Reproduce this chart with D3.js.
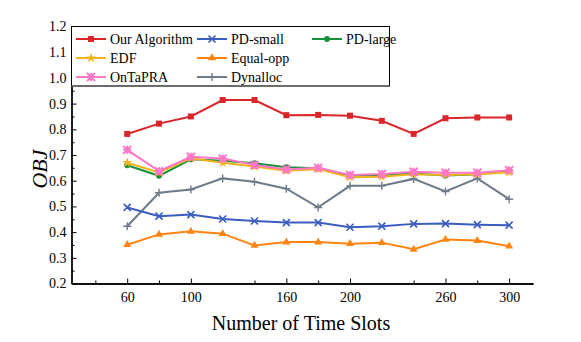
<!DOCTYPE html>
<html>
<head>
<meta charset="utf-8">
<script src="https://cdn.jsdelivr.net/npm/d3@7"></script>
<style>
body { margin: 0; background: #fff; }
text { font-family: "Liberation Serif", "Times New Roman", serif; }
</style>
</head>
<body>
<svg width="581" height="342"></svg>
<script>
// time slots on x
var slots = [60, 80, 100, 120, 140, 160, 180, 200, 220, 240, 260, 280, 300];

var ourAlgorithm = [0.782, 0.822, 0.850, 0.914, 0.914, 0.855, 0.856, 0.853, 0.833, 0.782, 0.843, 0.846, 0.846];
var pdSmall      = [0.496, 0.462, 0.468, 0.451, 0.443, 0.437, 0.437, 0.419, 0.423, 0.432, 0.433, 0.429, 0.427];
var pdLarge      = [0.660, 0.619, 0.683, 0.678, 0.668, 0.652, 0.648, 0.620, 0.620, 0.628, 0.620, 0.625, 0.640];
var edf          = [0.670, 0.632, 0.687, 0.670, 0.655, 0.639, 0.645, 0.613, 0.615, 0.625, 0.622, 0.625, 0.633];
var equalOpp     = [0.351, 0.391, 0.403, 0.394, 0.348, 0.361, 0.361, 0.355, 0.359, 0.333, 0.371, 0.367, 0.345];
var onTaPRA      = [0.720, 0.637, 0.693, 0.686, 0.661, 0.644, 0.650, 0.622, 0.626, 0.635, 0.631, 0.631, 0.641];
var dynalloc     = [0.423, 0.553, 0.566, 0.609, 0.596, 0.569, 0.496, 0.580, 0.580, 0.607, 0.558, 0.609, 0.528];

var xMajor = [60, 100, 160, 200, 260, 300];
var xMinor = [40, 80, 140, 180, 240, 280];
var yTicks = [0.2, 0.3, 0.4, 0.5, 0.6, 0.7, 0.8, 0.9, 1.0, 1.1, 1.2];

var series = [
  {name: "Our Algorithm", values: ourAlgorithm, color: "#d9262b", marker: "square"},
  {name: "PD-small", values: pdSmall, color: "#3b5cc0", marker: "x"},
  {name: "PD-large", values: pdLarge, color: "#15913b", marker: "circle"},
  {name: "EDF", values: edf, color: "#f2b31c", marker: "star"},
  {name: "Equal-opp", values: equalOpp, color: "#ff8411", marker: "triangle"},
  {name: "OnTaPRA", values: onTaPRA, color: "#ff78c8", marker: "asterisk"},
  {name: "Dynalloc", values: dynalloc, color: "#6e7b8b", marker: "plus"}
];
// draw order: pink over yellow/green
var drawOrder = [6, 4, 1, 2, 3, 5, 0];

var svg = d3.select("svg");
var mLeft = 71.5, mRight = 533, mTop = 26.5, mBottom = 283.5;

var x = d3.scaleLinear().domain([25, 315]).range([mLeft, mRight]);
var y = d3.scaleLinear().domain([0.2, 1.2]).range([mBottom, mTop]);

// axes (ticks point inward)
var xAxis = d3.axisBottom(x).tickValues(xMajor).tickSizeInner(-5).tickSizeOuter(0).tickPadding(9);
var xAxisMinor = d3.axisBottom(x).tickValues(xMinor).tickSizeInner(-3).tickSizeOuter(0).tickFormat("");
var yAxis = d3.axisLeft(y).tickValues(yTicks).tickSizeInner(-5).tickSizeOuter(0).tickPadding(5).tickFormat(d3.format(".1f"));
var yAxisMinor = d3.axisLeft(y).tickValues(d3.range(0.25, 1.2, 0.1)).tickSizeInner(-3).tickSizeOuter(0).tickFormat("");

svg.append("g").attr("transform", "translate(0," + mBottom + ")").call(xAxisMinor);
var gx = svg.append("g").attr("transform", "translate(0," + mBottom + ")").call(xAxis);
svg.append("g").attr("transform", "translate(" + mLeft + ",0)").call(yAxisMinor);
var gy = svg.append("g").attr("transform", "translate(" + mLeft + ",0)").call(yAxis);

svg.selectAll(".domain").attr("stroke", "#000").attr("stroke-width", 1.3);
svg.selectAll(".tick line").attr("stroke", "#000");
gx.selectAll("text").attr("font-size", 14).attr("fill", "#000").attr("font-family", "Liberation Serif");
gy.selectAll("text").attr("font-size", 14).attr("fill", "#000").attr("font-family", "Liberation Serif");

// axis titles
svg.append("text")
  .attr("x", 301)
  .attr("y", 330)
  .attr("text-anchor", "middle")
  .attr("font-size", 20)
  .attr("font-family", "Liberation Serif")
  .text("Number of Time Slots");

svg.append("text")
  .attr("transform", "translate(47,169) rotate(-90)")
  .attr("text-anchor", "middle")
  .attr("font-size", 22)
  .attr("font-style", "italic")
  .attr("font-family", "Liberation Serif")
  .text("OBJ");

var line = d3.line()
  .x(function (d, i) { return x(slots[i]); })
  .y(function (d) { return y(d); });

function drawMarker(g, type, color, cx, cy) {
  var s;
  if (type === "square") {
    g.append("rect").attr("x", cx - 3).attr("y", cy - 3).attr("width", 6).attr("height", 6).attr("fill", color);
  } else if (type === "circle") {
    g.append("circle").attr("cx", cx).attr("cy", cy).attr("r", 3).attr("fill", color);
  } else if (type === "triangle") {
    g.append("path").attr("d", d3.symbol().type(d3.symbolTriangle).size(28)()).attr("transform", "translate(" + cx + "," + cy + ")").attr("fill", color);
  } else if (type === "star") {
    g.append("path").attr("d", d3.symbol().type(d3.symbolStar).size(30)()).attr("transform", "translate(" + cx + "," + cy + ")").attr("fill", color);
  } else if (type === "x") {
    s = 3.5;
    g.append("path").attr("d", "M" + (cx - s) + "," + (cy - s) + "L" + (cx + s) + "," + (cy + s) + "M" + (cx - s) + "," + (cy + s) + "L" + (cx + s) + "," + (cy - s))
      .attr("stroke", color).attr("stroke-width", 1.6);
  } else if (type === "plus") {
    s = 4;
    g.append("path").attr("d", "M" + (cx - s) + "," + cy + "L" + (cx + s) + "," + cy + "M" + cx + "," + (cy - s) + "L" + cx + "," + (cy + s))
      .attr("stroke", color).attr("stroke-width", 1.4);
  } else if (type === "asterisk") {
    s = 4;
    g.append("path").attr("d", "M" + (cx - s) + "," + (cy - s) + "L" + (cx + s) + "," + (cy + s) + "M" + (cx - s) + "," + (cy + s) + "L" + (cx + s) + "," + (cy - s) +
      "M" + (cx - s) + "," + cy + "L" + (cx + s) + "," + cy + "M" + cx + "," + (cy - s) + "L" + cx + "," + (cy + s))
      .attr("stroke", color).attr("stroke-width", 2);
  }
}

var plot = svg.append("g");
drawOrder.forEach(function (k) {
  var s = series[k];
  var g = plot.append("g");
  g.append("path")
    .datum(s.values)
    .attr("fill", "none")
    .attr("stroke", s.color)
    .attr("stroke-width", 2)
    .attr("d", line);
  s.values.forEach(function (v, i) {
    drawMarker(g, s.marker, s.color, x(slots[i]), y(v));
  });
});

// legend
var legend = svg.append("g");
legend.append("rect")
  .attr("x", mLeft).attr("y", mTop).attr("width", 318).attr("height", 59.5)
  .attr("fill", "#fff").attr("stroke", "#000").attr("stroke-width", 1);
legend.append("line")
  .attr("x1", mLeft).attr("x2", mLeft + 318).attr("y1", mTop + 59.5).attr("y2", mTop + 59.5)
  .attr("stroke", "#666").attr("stroke-width", 1.5);

var colX = [76, 197, 312];
var rowY = [39, 58, 77];
series.forEach(function (s, i) {
  var cx, cy;
  if (i < 3) { cx = colX[i]; cy = rowY[0]; }
  else { cx = colX[(i - 3) % 2]; cy = rowY[1 + Math.floor((i - 3) / 2)]; }
  var g = legend.append("g");
  g.append("line").attr("x1", cx).attr("x2", cx + 30).attr("y1", cy).attr("y2", cy)
    .attr("stroke", s.color).attr("stroke-width", 2);
  drawMarker(g, s.marker, s.color, cx + 15, cy);
  g.append("text").attr("x", cx + 34).attr("y", cy + 5)
    .attr("font-size", 14).attr("fill", "#000").attr("font-family", "Liberation Serif").text(s.name);
});
</script>
</body>
</html>
